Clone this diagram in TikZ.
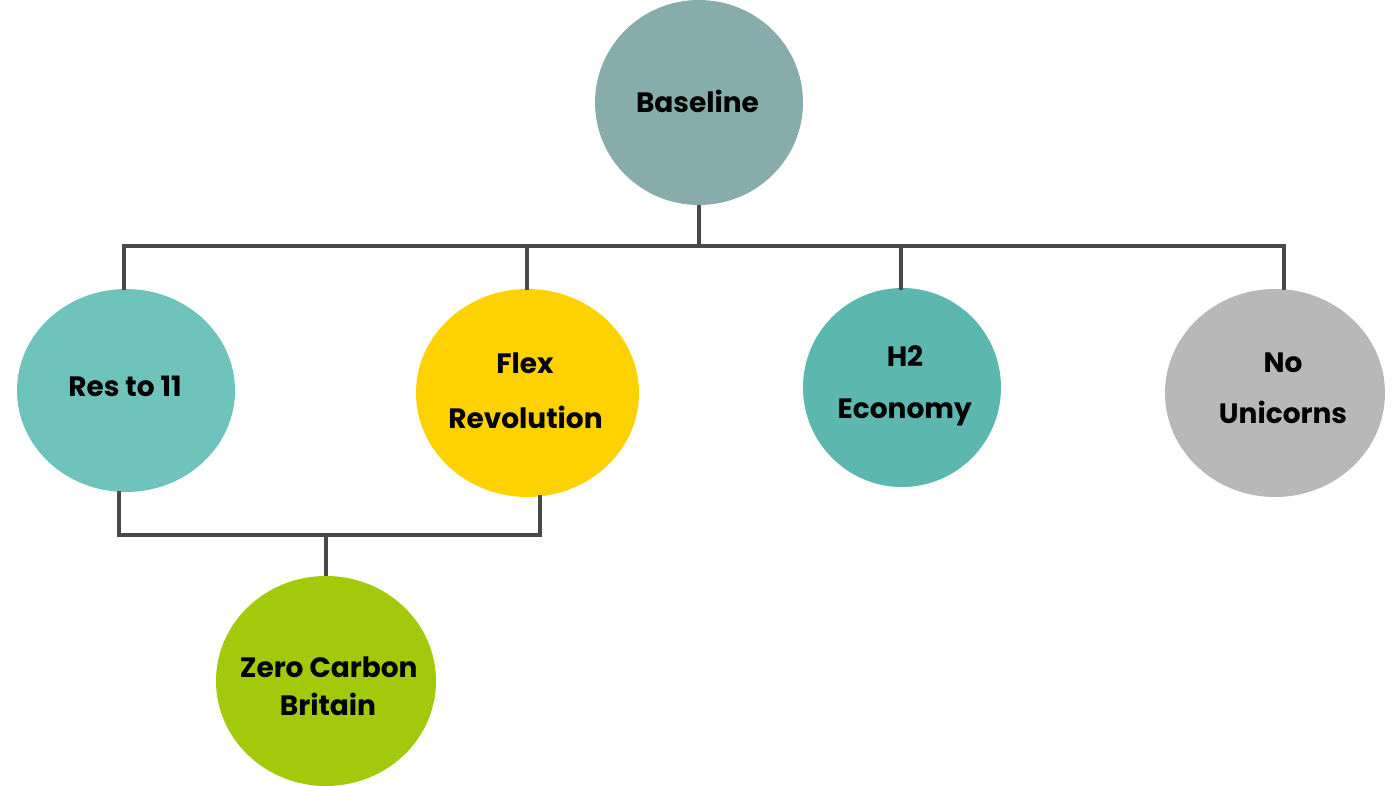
\documentclass[tikz,border=0pt]{standalone}
\usepackage{fontspec}
\setmainfont{Poppins}
\usetikzlibrary{shapes.geometric}
\definecolor{cBase}{HTML}{86ADAB}
\definecolor{cRes}{HTML}{6EC4BC}
\definecolor{cFlex}{HTML}{FDD200}
\definecolor{cHtwo}{HTML}{5CB7B0}
\definecolor{cNo}{HTML}{B8B8B8}
\definecolor{cZcb}{HTML}{A2CA0A}
\definecolor{cLine}{HTML}{4B4845}
\tikzset{
  blob/.style={ellipse, draw=none, inner sep=0pt},
  lbl/.style={anchor=base, inner sep=0pt, font=\fontsize{21}{21}\selectfont\bfseries, text=black},
  conn/.style={draw=cLine, line width=3pt}
}
\begin{document}
\begin{tikzpicture}[x=0.75pt, y=-0.75pt]
\useasboundingbox (0,0) rectangle (1397,786);
% circles
\node[blob, fill=cBase, minimum width=208*0.75pt, minimum height=205*0.75pt] (base) at (699,102.5) {};
\node[blob, fill=cRes,  minimum width=218*0.75pt, minimum height=203*0.75pt] (res)  at (126,390.5) {};
\node[blob, fill=cFlex, minimum width=223*0.75pt, minimum height=208*0.75pt] (flex) at (527.5,393) {};
\node[blob, fill=cHtwo, minimum width=198*0.75pt, minimum height=199*0.75pt] (htwo) at (902,387.5) {};
\node[blob, fill=cNo,   minimum width=220*0.75pt, minimum height=208*0.75pt] (nou)  at (1275,393) {};
\node[blob, fill=cZcb,  minimum width=220*0.75pt, minimum height=210*0.75pt] (zcb)  at (326,681) {};
% labels
\node[lbl] (tbase) at (697.5,112) {Baseline};
\node[lbl] (tres)  at (125,396) {Res to 11};
\node[lbl] (tflexa) at (525,373) {Flex};
\node[lbl] (tflexb) at (525.5,428) {Revolution};
\node[lbl] (thtwoa) at (905,366) {H2};
\node[lbl] (thtwob) at (904.7,418) {Economy};
\node[lbl] (tnoa) at (1283,372) {No};
\node[lbl] (tnob) at (1283,423) {Unicorns};
\node[lbl] (tzcba) at (328.7,677) {Zero Carbon};
\node[lbl] (tzcbb) at (328,715) {Britain};
% bus coordinates
\coordinate (busBase) at (699,246);
\coordinate (busL) at (124,246);
\coordinate (busR) at (1284,246);
\coordinate (resTop) at (124,290);
\coordinate (flexTop) at (527,290);
\coordinate (htwoTop) at (901,290);
\coordinate (nouTop) at (1284,290);
\coordinate (resBot) at (119,491);
\coordinate (flexBot) at (540,495);
\coordinate (lowL) at (119,535);
\coordinate (lowR) at (540,535);
\coordinate (lowM) at (326,535);
% connectors
\draw[conn] (base.south) -- (busBase);
\draw[conn] (resTop) -- (busL) -- (busR) -- (nouTop);
\draw[conn] (flexTop) -- (flexTop |- busL);
\draw[conn] (htwoTop) -- (htwoTop |- busL);
\draw[conn] (resBot) -- (lowL) -- (lowR) -- (flexBot);
\draw[conn] (lowM) -- (zcb.north);
\end{tikzpicture}
\end{document}
